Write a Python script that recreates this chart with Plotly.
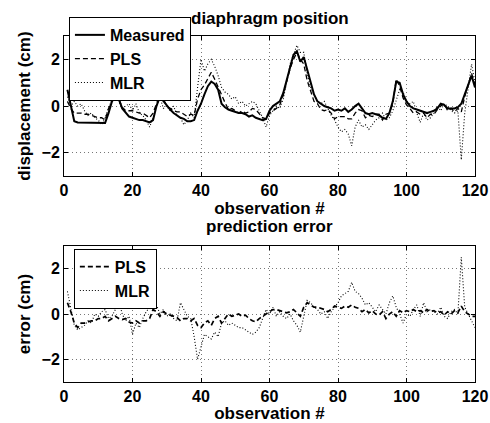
import plotly.graph_objects as go
from plotly.subplots import make_subplots

obs = list(range(1, 121))

measured = [0.7, 0.0, -0.65, -0.7, -0.7, -0.7, -0.7, -0.7, -0.7, -0.72,
            -0.7, -0.72, -0.3, 0.2, 0.4, 0.3, -0.1, -0.3, -0.45, -0.5,
            -0.55, -0.6, -0.6, -0.65, -0.7, -0.6, 0.0, 0.4, 0.2, 0.0,
            -0.15, -0.3, -0.4, -0.5, -0.55, -0.65, -0.65, -0.6, -0.2, 0.1,
            0.5, 0.85, 1.05, 0.95, 0.7, 0.1, -0.05, -0.15, -0.2, -0.25,
            -0.3, -0.3, -0.35, -0.45, -0.4, -0.5, -0.55, -0.6, -0.55, -0.2,
            0.0, 0.1, 0.2, 0.55, 1.1, 1.7, 2.2, 2.35, 1.9, 2.1,
            1.6, 1.0, 0.5, 0.2, 0.1, 0.0, -0.05, -0.1, -0.2, -0.15,
            -0.2, -0.1, -0.25, -0.15, 0.0, 0.1, -0.1, -0.3, -0.35, -0.3,
            -0.35, -0.4, -0.5, -0.55, -0.3, 0.2, 1.05, 1.0, 0.5, 0.2,
            0.0, -0.1, -0.15, -0.2, -0.25, -0.3, -0.25, -0.2, -0.1, 0.1,
            0.05, -0.1, -0.1, -0.1, -0.05, 0.1, 0.5, 0.9, 1.3, 0.8]

pls = [0.2, -0.1, -0.3, -0.3, -0.3, -0.35, -0.35, -0.4, -0.45, -0.5,
       -0.5, -0.6, -0.1, 0.2, 0.5, 0.3, -0.05, -0.2, -0.2, -0.2,
       -0.25, -0.3, -0.3, -0.4, -0.5, -0.3, 0.1, 0.5, 0.3, 0.0,
       -0.1, -0.2, -0.25, -0.25, -0.35, -0.45, -0.35, -0.4, 0.3, 0.7,
       0.9, 1.15, 1.45, 1.15, 0.8, 0.5, 0.15, -0.15, -0.1, -0.2,
       -0.3, -0.2, -0.3, -0.25, -0.1, -0.15, -0.35, -0.5, -0.55, -0.3,
       -0.2, -0.1, 0.05, 0.45, 1.05, 1.6, 2.0, 2.3, 2.0, 1.8,
       1.1, 0.6, 0.2, 0.1, -0.15, -0.2, -0.15, -0.3, -0.55, -0.45,
       -0.45, -0.45, -0.55, -0.55, -0.3, -0.15, -0.2, -0.5, -0.4, -0.45,
       -0.35, -0.35, -0.6, -0.35, -0.3, 0.1, 1.15, 0.85, 0.35, 0.05,
       -0.1, -0.3, -0.25, -0.35, -0.3, -0.5, -0.35, -0.35, -0.15, 0.0,
       0.1, -0.2, -0.1, -0.25, -0.1, -0.25, 0.4, 0.9, 1.4, 0.9]

mlr = [0.4, 0.0, 0.2, 0.0, 0.1, -0.2, -0.4, -0.3, -0.5, -0.6,
       -0.8, -0.5, -0.1, 0.3, 0.5, 0.2, -0.1, 0.0, 0.1, -0.2,
       0.1, -0.3, -0.4, -0.6, -0.9, -0.5, 0.0, 0.4, -0.1, 0.0,
       -0.2, 0.0, -0.4, -0.5, -0.8, -0.6, -0.3, -0.5, 0.8, 2.0,
       1.5, 1.8, 2.0, 1.7, 1.3, 0.8, 0.6, 0.5, 0.3, 0.4,
       0.1, 0.2, 0.0, 0.1, 0.2, 0.1, -0.2, -0.5, -0.9, -0.4,
       -0.2, 0.0, -0.1, 0.3, 1.0, 1.8, 2.2, 2.6, 2.3, 2.3,
       1.4, 0.8, 0.5, 0.2, 0.1, 0.2, -0.1, -0.4, -0.6, -0.9,
       -1.1, -1.0, -1.2, -1.7, -0.9, -0.6, -0.9, -0.8, -1.0, -0.8,
       -0.6, -0.5, -0.3, -0.6, -0.5, -0.2, 0.3, 0.7, 0.6, 0.2,
       0.1, 0.2, -0.3, -0.7, -0.3, -0.6, -0.5, -0.3, 0.0, -0.2,
       0.1, 0.0, -0.2, -0.3, -0.2, -2.3, -0.3, 0.8, 1.8, 1.0]

pls_err = [0.5, 0.1, -0.4, -0.6, -0.4, -0.4, -0.35, -0.3, -0.3, -0.2,
           -0.2, -0.1, -0.3, -0.2, -0.1, -0.2, -0.25, -0.2, -0.35, -0.4,
           -0.3, -0.4, -0.3, -0.3, -0.2, 0.2, 0.1, -0.1, 0.1, 0.0,
           -0.05, -0.1, -0.15, -0.3, -0.2, -0.2, -0.3, -0.2, -0.5, -0.6,
           -0.4, -0.3, -0.5, -0.2, -0.1, -0.4, -0.2, 0.0, -0.1, -0.05,
           0.0, -0.1, -0.05, -0.2, -0.3, -0.35, -0.2, -0.1, 0.0, 0.1,
           0.2, 0.2, 0.15, 0.1, 0.05, 0.1, 0.2, 0.05, -0.1, 0.3,
           0.5, 0.4, 0.3, 0.3, 0.25, 0.2, 0.1, 0.2, 0.35, 0.3,
           0.25, 0.35, 0.3, 0.4, 0.3, 0.25, 0.1, 0.2, 0.05, 0.15,
           0.0, -0.05, 0.1, -0.2, 0.0, 0.1, -0.1, 0.15, 0.05, 0.15,
           0.1, 0.2, 0.1, 0.15, 0.05, 0.2, 0.1, 0.15, 0.05, 0.1,
           -0.05, 0.1, 0.0, 0.15, 0.05, 0.35, 0.1, 0.0, -0.1, -0.1]

mlr_err = [1.0, 0.2, -0.5, -0.7, -0.6, -0.5, -0.3, -0.4, 0.0, -0.1,
           0.1, 0.2, -0.2, -0.1, 0.2, 0.6, 0.0, -0.3, -0.1, -0.9,
           -0.4, -0.6, -0.2, 0.1, 0.3, 0.7, 0.4, 0.0, 0.2, -0.1,
           0.0, -0.2, -0.3, 0.5, 0.2, -0.1, -0.2, -1.0, -2.0, -1.5,
           -0.9, -1.0, -1.1, -0.8, -1.0, -0.4, -0.3, -0.5, -0.4, -0.5,
           -0.6, -0.6, -0.7, -0.8, -0.9, -0.8, -0.6, -0.2, 0.2, 0.0,
           0.3, -0.1, 0.1, -0.1, -0.2, 0.0, -0.3, -0.5, -0.8, -0.1,
           0.6, 0.5, 0.3, 0.2, 0.0, 0.1, -0.2, 0.1, 0.3, 0.5,
           0.8, 0.9, 1.0, 1.4, 1.0, 0.9, 0.7, 0.4, 0.5, 0.3,
           0.1, 0.4, 0.2, 0.0, 0.5, 0.8, 0.3, 0.0, -0.4, 0.0,
           -0.1, 0.2, 0.4, -0.1, 0.5, 0.1, 0.2, 0.1, 0.0, 0.3,
           -0.1, -0.2, 0.1, 0.2, 0.0, 2.5, 0.3, 0.0, -0.3, -0.6]

x_ticks = [0, 20, 40, 60, 80, 100, 120]
y_ticks = [-2, 0, 2]

FONT = "Liberation Sans"
TXT = dict(family=FONT, size=17, color="black", weight="bold")
LEG = dict(family=FONT, size=16, color="black", weight="bold")

fig = make_subplots(rows=2, cols=1, vertical_spacing=0.2)

fig.add_trace(go.Scatter(x=obs, y=measured, mode="lines", name="Measured",
                         line=dict(color="black", width=2), legend="legend"), row=1, col=1)
fig.add_trace(go.Scatter(x=obs, y=pls, mode="lines", name="PLS",
                         line=dict(color="black", width=1.3, dash="5px,3px"), legend="legend"), row=1, col=1)
fig.add_trace(go.Scatter(x=obs, y=mlr, mode="lines", name="MLR",
                         line=dict(color="black", width=1.1, dash="1px,2px"), legend="legend"), row=1, col=1)
fig.add_trace(go.Scatter(x=obs, y=pls_err, mode="lines", name="PLS",
                         line=dict(color="black", width=1.7, dash="5px,3px"), legend="legend2"), row=2, col=1)
fig.add_trace(go.Scatter(x=obs, y=mlr_err, mode="lines", name="MLR",
                         line=dict(color="black", width=1.1, dash="1px,2px"), legend="legend2"), row=2, col=1)

axis_common = dict(showline=True, linecolor="black", linewidth=1, mirror="ticks",
                   ticks="inside", ticklen=4, tickcolor="black",
                   showgrid=True, gridcolor="#777777", griddash="1px,3px", gridwidth=1,
                   zeroline=False, automargin=False,
                   tickfont=dict(family=FONT, size=16, color="black", weight="bold"))

for r in (1, 2):
    fig.update_xaxes(range=[0, 120], tickvals=x_ticks, row=r, col=1,
                     title=dict(text="observation #", standoff=0, font=TXT),
                     **axis_common)
    fig.update_yaxes(range=[-3, 3], tickvals=y_ticks, row=r, col=1,
                     tickformat="d", **axis_common)

fig.update_yaxes(title=dict(text="displacement (cm)", standoff=6, font=TXT), row=1, col=1)
fig.update_yaxes(title=dict(text="error (cm)", standoff=6, font=TXT), row=2, col=1)

fig.update_layout(
    width=490, height=423,
    margin=dict(l=64, r=15, t=36, b=41, autoexpand=False),
    paper_bgcolor="white", plot_bgcolor="white",
    font=dict(family=FONT, color="black"),
    showlegend=True,
    hovermode=False,
    xaxis=dict(domain=[0, 1]), yaxis=dict(domain=[0.595, 1.0]),
    xaxis2=dict(domain=[0, 1]), yaxis2=dict(domain=[0.0, 0.393]),
    legend=dict(x=0.012, y=1.055, xanchor="left", yanchor="top",
                bgcolor="white", bordercolor="black", borderwidth=1,
                font=LEG, tracegroupgap=0, itemwidth=30),
    legend2=dict(x=0.024, y=0.385, xanchor="left", yanchor="top",
                 bgcolor="white", bordercolor="black", borderwidth=1,
                 font=LEG, tracegroupgap=0, itemwidth=30),
    annotations=[
        dict(text="diaphragm position", x=0.5, y=1.0, xref="paper", yref="paper",
             xanchor="center", yanchor="bottom", yshift=6, showarrow=False, font=TXT),
        dict(text="prediction error", x=0.5, y=0.393, xref="paper", yref="paper",
             xanchor="center", yanchor="bottom", yshift=8, showarrow=False, font=TXT),
    ],
)

# remove the page's default body margin so the 490x423 figure fills the window exactly
fig.write_html("out.html", config={"displayModeBar": False},
               post_script="document.body.style.margin='0';document.body.style.overflow='hidden';")
